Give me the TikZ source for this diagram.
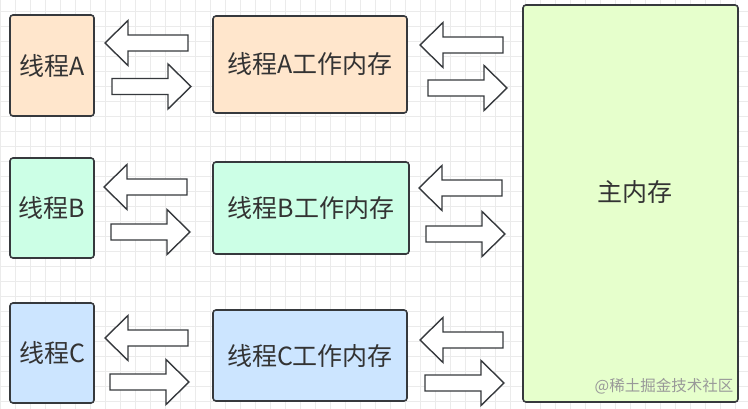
\documentclass[tikz,border=0pt]{standalone}
\usepackage{fontspec}
\setmainfont{Noto Sans CJK SC}
\definecolor{lineC}{HTML}{36393D}
\definecolor{txtC}{HTML}{333333}
\definecolor{fillA}{HTML}{FFE6CC}
\definecolor{fillB}{HTML}{CCFFE6}
\definecolor{fillC}{HTML}{CCE5FF}
\definecolor{fillM}{HTML}{E6FFCC}
\definecolor{gridC}{HTML}{EBEBEB}
% block arrows: tip point / tail point, and the middle height
\newcommand{\lblk}[2]{\draw[blk] (#1,#2) -- ++(23,-22.5) -- ++(0,14.5) -- ++(60,0) -- ++(0,16) -- ++(-60,0) -- ++(0,14.5) -- cycle;}
\newcommand{\rblk}[2]{\draw[blk] (#1,#2-8) -- ++(56,0) -- ++(0,-14.5) -- ++(23,22.5) -- ++(-23,22.5) -- ++(0,-14.5) -- ++(-56,0) -- cycle;}
\begin{document}
\begin{tikzpicture}[x=1pt,y=-1pt,every node/.style={font=\fontsize{25}{30}\selectfont,text=txtC},
  box/.style={draw=lineC,line width=1.6pt,rounded corners=3pt},
  blk/.style={draw=lineC,fill=white,line width=1.4pt,line join=miter},
  gridline/.style={gridC,line width=0.6pt}]
 \useasboundingbox (0,0) rectangle (748,409);
 \fill[white] (0,0) rectangle (748,409);
 % background grid
 \foreach \gx in {0,15,...,745} \draw[gridline] (\gx,0) -- (\gx,409);
 \foreach \gy in {11.5,26.5,...,409} \draw[gridline] (0,\gy) -- (748,\gy);
 % threads
 \node[box,fill=fillA,minimum width=84pt,minimum height=101pt] (thA) at (52,65.5) {线程A};
 \node[box,fill=fillB,minimum width=84pt,minimum height=100pt] (thB) at (52,208) {线程B};
 \node[box,fill=fillC,minimum width=84pt,minimum height=100pt] (thC) at (52,353) {线程C};
 % working memories
 \node[box,fill=fillA,minimum width=194pt,minimum height=97pt] (wmA) at (310,64.5) {线程A工作内存};
 \node[box,fill=fillB,minimum width=196pt,minimum height=92pt] (wmB) at (311,208) {线程B工作内存};
 \node[box,fill=fillC,minimum width=194pt,minimum height=91pt] (wmC) at (310,355.5) {线程C工作内存};
 % main memory
 \node[box,fill=fillM,minimum width=215pt,minimum height=397pt] (mem) at (630.5,203.5) {};
 \node (memtxt) at (635,192) {主内存};
 \node[font=\fontsize{15.5}{18}\selectfont,text=black!40] (mark) at (664,386) {@稀土掘金技术社区};
 % thread <-> working memory
 \lblk{105}{43}
 \rblk{112}{86.5}
 \lblk{104}{187}
 \rblk{111}{232}
 \lblk{105}{338}
 \rblk{110}{382}
 % working memory <-> main memory
 \lblk{420}{45}
 \rblk{428}{88}
 \lblk{419}{188}
 \rblk{426}{234}
 \lblk{420}{340}
 \rblk{425}{383}
\end{tikzpicture}
\end{document}
